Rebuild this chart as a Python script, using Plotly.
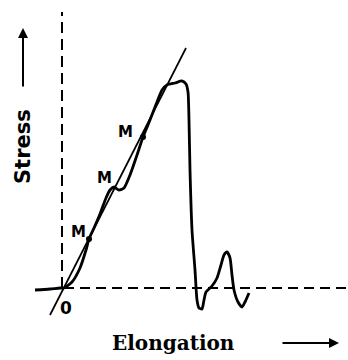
import plotly.graph_objects as go

# Stress-elongation curve (elongation, stress), origin at 0,0
elong = [-29, -14, -4, 0, 8, 16, 22, 25, 30, 36, 42, 46, 50, 55, 60, 66, 73, 79, 86, 93, 98,
         103, 111, 118, 122, 124, 125, 126, 128, 131, 133, 135, 138, 140, 142, 148, 153, 157,
         160, 163, 166, 168, 170, 174, 178, 181, 185]
stress = [-2, -1, 0, 0, 6, 20, 38, 49, 60, 74, 90, 98, 101, 98, 100, 113, 133, 151, 168, 186, 198,
          203, 205, 207, 204, 196, 168, 118, 58, 18, -12, -20, -21, -12, -4, 2, 10, 23,
          33, 36, 30, 13, -2, -14, -19, -14, -5]

# Straight reference line
line_x = [-14, 122]
line_y = [-27, 240]

# M points
m_x = [25, 79]
m_y = [49, 151]
m_label_x = [14, 40, 61]
m_label_y = [56, 110, 156]

fig = go.Figure()

# dashed axes
fig.add_trace(go.Scatter(x=[0, 284], y=[0, 0], mode="lines",
                         line=dict(color="black", width=2, dash="10px,6px"), hoverinfo="skip"))
fig.add_trace(go.Scatter(x=[-2, -2], y=[0, 276], mode="lines",
                         line=dict(color="black", width=2, dash="11px,6px"), hoverinfo="skip"))
# straight line
fig.add_trace(go.Scatter(x=line_x, y=line_y, mode="lines",
                         line=dict(color="black", width=1.7), hoverinfo="skip"))
# curve
fig.add_trace(go.Scatter(x=elong, y=stress, mode="lines",
                         line=dict(color="black", width=2.8, shape="spline", smoothing=0.6),
                         hoverinfo="skip"))
# M dots
fig.add_trace(go.Scatter(x=m_x, y=m_y, mode="markers",
                         marker=dict(color="black", size=6), hoverinfo="skip"))

for lx, ly in zip(m_label_x, m_label_y):
    fig.add_annotation(x=lx, y=ly, text="<b>M</b>", showarrow=False,
                       font=dict(family="DejaVu Sans", size=15, color="black"))

fig.add_annotation(x=2, y=-20, text="<b>0</b>", showarrow=False,
                   font=dict(family="DejaVu Sans", size=17, color="black"))

fig.add_annotation(x=-41, y=141, text="<b>Stress</b>", showarrow=False, textangle=-90,
                   font=dict(family="DejaVu Sans", size=21, color="black"))
fig.add_annotation(x=-41, y=260, ax=-41, ay=200, xref="x", yref="y", axref="x", ayref="y",
                   text="", showarrow=True, arrowhead=2, arrowsize=1, arrowwidth=2,
                   arrowcolor="black")

fig.add_annotation(x=109, y=-55, text="<b>Elongation</b>", showarrow=False,
                   font=dict(family="DejaVu Serif", size=20, color="black"))
fig.add_annotation(x=275, y=-55, ax=217, ay=-55, xref="x", yref="y", axref="x", ayref="y",
                   text="", showarrow=True, arrowhead=2, arrowsize=1, arrowwidth=2,
                   arrowcolor="black")

fig.update_layout(width=348, height=360, margin=dict(l=0, r=0, t=0, b=0),
                  paper_bgcolor="white", plot_bgcolor="white", showlegend=False,
                  xaxis=dict(range=[-64, 284], visible=False, fixedrange=True),
                  yaxis=dict(range=[-72, 288], visible=False, fixedrange=True))

fig.write_html("out.html")
